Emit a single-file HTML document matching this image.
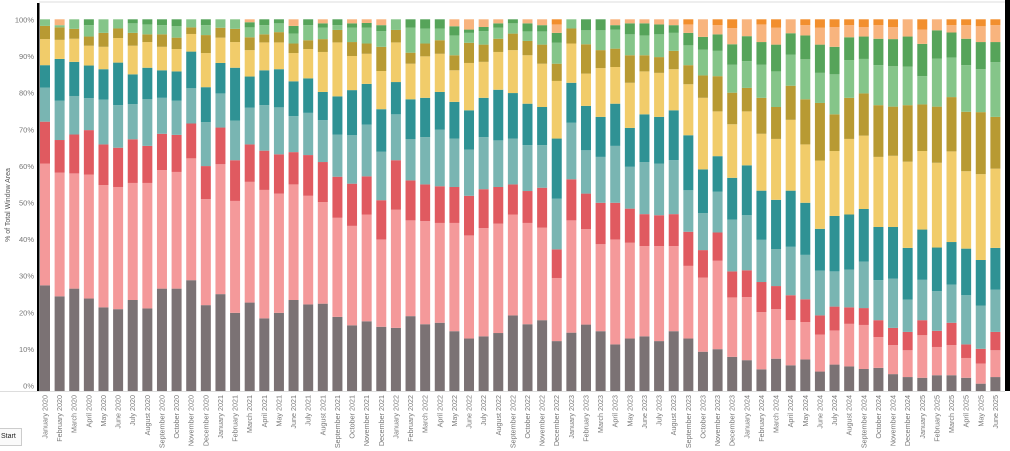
<!DOCTYPE html>
<html><head><meta charset="utf-8"><style>
html,body{margin:0;padding:0;background:#fff;width:1010px;height:451px;overflow:hidden;font-family:"Liberation Sans",sans-serif}
svg{position:absolute;left:0;top:0}
.btn{position:absolute;left:-2px;top:428px;width:20px;height:16px;border:1px solid #ccc;background:#fafafa;font-size:7px;line-height:16px;padding-left:2px;color:#222}
</style></head><body>
<svg id="chart" width="1010" height="451"></svg>
<div class="btn">Start</div>
<script>
const months=["January","February","March","April","May","June","July","August","September","October","November","December"];
const yearStart=2020;
const barCount=66;
const yTicks=[0,10,20,30,40,50,60,70,80,90,100];
const seriesNames=["gray","pink","red","light-teal","dark-teal","yellow","olive","light-green","green","peach","orange"];
const seriesColors=["#7b7274","#f4999a","#e05a60","#79b5b2","#2f9294","#f1cc6a","#b89a33","#85c589","#56a45a","#f8b47e","#f28f2e"];
const gray=[28.8,25.8,27.9,25.2,22.8,22.3,24.8,22.5,27.9,27.9,30.2,23.4,26.4,21.3,24.1,19.8,21.3,24.8,23.6,23.8,20.2,17.9,19,17.5,17.2,20.4,18.2,18.6,16.3,14.3,14.9,15.8,20.6,18.2,19.3,13.6,15.9,18.1,16.3,12.7,14.3,14.9,13.6,16.3,14.3,10.7,11.4,9.3,8.4,5.9,8.8,7,8.6,5.3,7.2,6.7,6,6.3,4.6,3.8,3.6,4.3,4.3,3.6,2,3.8];
const pink=[33.2,33.7,31.4,33.8,33.3,33.3,31.9,34.2,32.3,31.8,33.2,28.9,35.4,30.5,32.9,35,32.5,31.5,29.6,27.7,27,27.1,29.1,23.8,32.2,26.1,28.1,27.2,29.5,28.1,29.5,29.8,27.5,27.6,25.2,17.2,30.6,26,23.7,28.6,26.1,24.6,25.9,23.2,19.8,20.2,24.1,16.2,17.2,15.6,13.5,12.3,10.2,10.1,9.3,11.6,12,8.4,7.9,7.3,11.6,7.7,8.2,5.4,5.5,7.3];
const red=[11.4,8.9,10.6,12.1,11.1,10.7,11.9,10.1,9.9,10.1,9.5,9,10,11.1,10.2,10.7,10.7,8.8,11.1,10.9,11.2,11.5,10.4,10.7,13.5,10.9,10,10,9.8,10.8,10.6,10,8.2,8.7,10.9,7.8,11.2,9.7,11.3,10,9.3,8.7,8.4,8.7,9.3,7.5,7.7,7.1,7.3,8.2,6.3,6.8,6.2,5.2,6.5,4.5,4.6,4.6,4.7,5,4.1,4.4,6.1,3.7,4,5];
const lightTeal=[9.3,10.7,10.5,8.7,12.2,11.6,9.6,12.7,9.8,9.3,9.6,12,9.3,10.8,10,12.4,12.8,9.8,11.5,11.4,11.5,13.2,14.1,13.2,12.5,11.2,12.9,15.4,13.2,12.6,14.2,12.7,12.5,12.5,11.6,13.8,15.4,11.8,12.5,15.5,11.4,14.2,14.1,14.7,11.3,10.1,11.1,14.1,15,11.5,10.1,13.2,12.1,12.2,9.6,10.3,12.7,10.9,13.4,8.8,11,10.8,10.4,13.4,11.8,11.5];
const darkTeal=[6.1,11.4,9.3,8.9,8.3,11.6,8.1,8.6,7.5,8,10,9.5,8.3,14.4,8.5,9.5,10.4,9.5,9.4,7.7,10.4,12.3,11.1,11.6,8.8,10.9,10.7,10.3,10,10.7,10.7,13.8,12.4,11.3,10.4,16.4,10.9,12.1,10.9,11.5,10.6,13,12.7,13.6,15,11.9,9.7,11.4,13.6,13.4,13.4,15.3,14.2,11.4,15.1,15,14.3,14.5,14.1,14.1,13.7,11.9,11.6,12.7,12.4,11.4];
const yellow=[7.1,5.2,6.3,5.4,6.1,6.7,7.8,7,6.4,6.1,4.8,9.3,6.9,7,7.2,7.6,7.3,7.7,8,10.9,14.7,9.3,8.2,10.4,10.8,9.7,11.3,10.4,8.6,12.9,9.8,10.3,11.7,13.2,11.8,15.7,10.7,8.8,13.3,10,12.3,11.7,12,11.2,13.9,19.5,12.2,14.6,14.7,15.5,16.6,19.3,15.9,18.6,17.7,20.6,20,19.1,19.4,23.5,21.4,23.1,24.7,21.1,23.4,21.6];
const olive=[3.6,3.4,2.7,2.5,3.8,2.6,3.5,2.1,3.4,3.1,1.8,4.9,2.7,3.6,3.5,2.2,2.8,2.6,2.4,3.5,3.4,3.8,2.8,6.6,3.4,3,3.5,3.7,4.1,5.5,4.7,3.6,4.5,3.9,5.2,4.7,4.1,8,4.9,5,7.5,4.4,4.3,5,5.2,6.1,9.6,8.6,6.4,9.8,8.7,9.3,12.3,15.7,10,11.2,11.5,14.1,13.4,15.4,12.7,15.3,14.8,16.2,16.9,14.1];
const lightGreen=[1.8,0.6,2.6,3.1,3.7,2.5,2.6,2.7,2.5,3.1,2.2,2.7,2.3,2.6,2.7,2.5,2.4,2.7,4.1,3.1,1.3,3.9,4.3,4.3,2.9,6.8,4.1,3.2,5.4,2.7,3.7,3,2.8,2.6,3.6,5.7,2.5,3.8,5.4,5.2,5.7,5.4,6.2,4.9,5.4,7,6.9,7.6,7.3,9,9.7,8.5,10.9,8.2,10.9,10.3,9.4,10.9,11,10.5,7.7,13.1,10.8,12.7,11.7,14.9];
const green=[0,0,0,1.6,0,0,1.1,1.4,1.6,1.9,0,1.6,0,0,1.4,1.6,1.1,2.1,1.6,1.2,1.6,1.2,1.3,1.6,0,2.3,2.5,2.5,2.5,0.9,1.1,1.2,1.1,2.2,1.7,2.7,0,3,3,1.2,3,3.3,2.7,2.1,3.4,3.5,4.5,5.6,6.8,6.2,7.3,5.8,6.5,7.7,7.5,6.2,6.1,7.2,7.4,8.2,8.8,7.7,6.8,7.2,7.4,5.5];
const peach=[0,1.6,0,0,0,0,0,0,0,0,0,0,0,0,0.8,0,0,1.8,0,1.1,0,1.1,1,1.6,0,0,0,0,1.9,2.8,2.1,1.1,0,1.1,1.6,2.3,0,0,0,1.6,1.1,1.1,1.4,1.6,2.3,4.8,2.5,4.4,4.6,4.8,4.6,3.8,2.8,4.6,5.4,3.3,2.6,3.7,3.3,4.7,3.9,3,2,3.7,4.3,4.6];
const orange=[0,0,0,0,0,0,0,0,0,0,0,0,0,0,0,0,0,0,0,0,0,0,0,0,0,0,0,0,0,0,0,0,0,0,0,1.4,0,0,0,0,0,0,0,0,1.4,0,1.6,2.4,0,1.4,2.3,0,1.6,2.3,2.1,1.6,2.1,1.6,2.1,0,2.8,0,1.6,1.6,1.9,1.6];
const series=[gray,pink,red,lightTeal,darkTeal,yellow,olive,lightGreen,green,peach,orange];

const NS="http://www.w3.org/2000/svg";
const svg=document.getElementById('chart');
const plotL=39,plotR=1004,yTop=19.3,yBot=391;
const step=(plotR-plotL)/barCount, barW=10;
function xPos(i){return plotL+1+i*step;}
function yPos(v){return yBot-(v/100)*(yBot-yTop);}
function labelY(v){return 386-(v/100)*(386-20);}
function mk(tag,attrs){const e=document.createElementNS(NS,tag);for(const k in attrs)e.setAttribute(k,attrs[k]);svg.appendChild(e);return e;}

const tb=mk('line',{x1:39,y1:2,x2:1010,y2:2,stroke:'#ddd','stroke-width':1});



yTicks.forEach(t=>{
  const tx=mk('text',{x:34,y:labelY(t)+2.5,'text-anchor':'end','font-size':'7.5',fill:'#777'});
  tx.textContent=t+'%';
  
  
});
const yt=mk('text',{x:0,y:0,'font-size':'7',fill:'#555',transform:'translate(10,205) rotate(-90)','text-anchor':'middle'});
yt.textContent='% of Total Window Area';



for(let i=0;i<barCount;i++){
  let tot=0;series.forEach(s=>tot+=s[i]);
  let cum=0;
  series.forEach((s,k)=>{
    const v=s[i]/tot*100;
    if(v<=0)return;
    const y1=yPos(cum+v),y0=yPos(cum);
    const r=mk('rect',{x:xPos(i),y:y1,width:barW,height:Math.max(0,y0-y1),fill:seriesColors[k]});
    
    
    cum+=v;
  });
  const m=i%12,yr=yearStart+Math.floor(i/12);
  const cx=xPos(i)+barW/2+2.5;
  const lb=mk('text',{x:0,y:0,'font-size':'7.2',fill:'#777','text-anchor':'end',transform:'translate('+cx+',395) rotate(-90)'});
  lb.textContent=months[m]+' '+yr;
  
  
}
const al=mk('rect',{x:37,y:3,width:2.5,height:388,fill:'#000'});


const rl=mk('rect',{x:1005,y:0,width:5,height:391,fill:'#000'});


const bl=mk('line',{x1:0,y1:391.5,x2:1005,y2:391.5,stroke:'#ddd','stroke-width':1});


</script>
</body></html>
